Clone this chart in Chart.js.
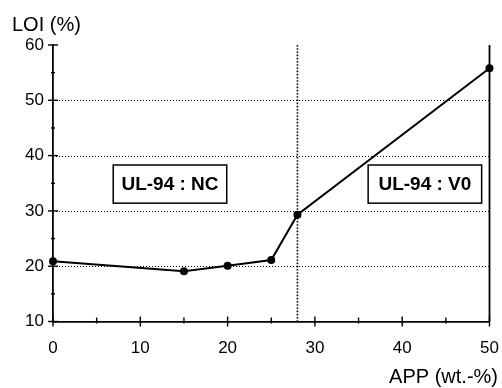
<!DOCTYPE html>
<html>
<head>
<meta charset="utf-8">
<script src="https://cdn.jsdelivr.net/npm/chart.js@4/dist/chart.umd.min.js"></script>
<style>
  html, body { margin: 0; padding: 0; background: #fff; }
  #wrap { width: 502px; height: 388px; }
</style>
</head>
<body>
<div id="wrap"><canvas id="loiChart" width="502" height="388"></canvas></div>
<script>
/* ─── Data ──────────────────────────────────────── */
const APP_CONTENT = [0, 15, 20, 25, 28, 50];
const LOI_VALUES  = [20.9, 19.1, 20.1, 21.1, 29.3, 55.8];

const X_TICKS = [0, 10, 20, 30, 40, 50];
const Y_TICKS = [10, 20, 30, 40, 50, 60];
const GRID_Y  = [20, 30, 40, 50];
const LIMIT_X = 28;

const BOX_LABELS = ['UL-94 : NC', 'UL-94 : V0'];
// box corners in data units: [x1, y1, x2, y2]
const BOX_AREAS  = [[6.9, 38.3, 19.9, 31.4], [36.1, 38.3, 49.1, 31.4]];

const X_TITLE = 'APP (wt.-%)';
const Y_TITLE = 'LOI (%)';

/* ─── Style ─────────────────────────────────────── */
const FONT = "Arial, 'Liberation Sans', sans-serif";
const INK  = '#000';

/* ─── Decorations plugin ────────────────────────── */
const decorPlugin = {
  id: 'decor',
  beforeDatasetsDraw(chart) {
    const { ctx, chartArea: a, scales: { x, y } } = chart;
    ctx.save();

    // dotted horizontal grid
    ctx.strokeStyle = INK;
    ctx.lineWidth = 1;
    ctx.setLineDash([1, 2]);
    GRID_Y.forEach(v => {
      const py = Math.round(y.getPixelForValue(v)) + 0.5;
      ctx.beginPath();
      ctx.moveTo(a.left, py);
      ctx.lineTo(a.right, py);
      ctx.stroke();
    });

    // dotted vertical limit line
    ctx.lineWidth = 1.6;
    ctx.setLineDash([1.6, 1.6]);
    const lx = x.getPixelForValue(LIMIT_X);
    ctx.beginPath();
    ctx.moveTo(lx, a.top);
    ctx.lineTo(lx, a.bottom);
    ctx.stroke();
    ctx.setLineDash([]);

    // right border line
    ctx.lineWidth = 1.8;
    ctx.beginPath();
    ctx.moveTo(a.right, a.top);
    ctx.lineTo(a.right, a.bottom);
    ctx.stroke();

    // tick marks
    ctx.lineWidth = 1.4;
    for (let v = 0; v <= 50; v += 5) {
      const px = x.getPixelForValue(v);
      const up = v % 10 === 0 ? 5 : 4;
      const dn = v % 10 === 0 ? 5 : 2;
      ctx.beginPath();
      ctx.moveTo(px, a.bottom - up);
      ctx.lineTo(px, a.bottom + dn);
      ctx.stroke();
    }
    for (let v = 10; v <= 60; v += 5) {
      const py = y.getPixelForValue(v);
      const l = v % 10 === 0 ? 5 : 2;
      const r = v % 10 === 0 ? 5 : 2;
      ctx.beginPath();
      ctx.moveTo(a.left - l, py);
      ctx.lineTo(a.left + r, py);
      ctx.stroke();
    }

    // annotation boxes
    ctx.font = `bold 19px ${FONT}`;
    ctx.textAlign = 'center';
    ctx.textBaseline = 'middle';
    BOX_AREAS.forEach((b, i) => {
      const x1 = x.getPixelForValue(b[0]), y1 = y.getPixelForValue(b[1]);
      const x2 = x.getPixelForValue(b[2]), y2 = y.getPixelForValue(b[3]);
      ctx.fillStyle = '#fff';
      ctx.fillRect(x1, y1, x2 - x1, y2 - y1);
      ctx.lineWidth = 1.5;
      ctx.strokeRect(x1, y1, x2 - x1, y2 - y1);
      ctx.fillStyle = INK;
      ctx.fillText(BOX_LABELS[i], (x1 + x2) / 2, (y1 + y2) / 2 + 1);
    });

    // axis titles
    ctx.textBaseline = 'alphabetic';
    ctx.font = `20px ${FONT}`;
    ctx.textAlign = 'left';
    ctx.fillText(Y_TITLE, 12, 31);
    ctx.textAlign = 'right';
    ctx.fillText(X_TITLE, 498, 383);

    ctx.restore();
  },
};

/* ─── Chart ─────────────────────────────────────── */
const chart = new Chart(document.getElementById('loiChart'), {
  type: 'line',
  data: {
    datasets: [{
      data: APP_CONTENT.map((v, i) => ({ x: v, y: LOI_VALUES[i] })),
      borderColor: INK,
      borderWidth: 2,
      backgroundColor: INK,
      pointRadius: 4,
      pointBackgroundColor: INK,
      pointBorderWidth: 0,
      tension: 0,
      clip: false,
    }],
  },
  options: {
    responsive: false,
    animation: false,
    devicePixelRatio: 1,
    layout: { padding: { top: 45, right: 12.5, left: 0, bottom: 0 } },
    plugins: { legend: { display: false }, tooltip: { enabled: false } },
    scales: {
      x: {
        type: 'linear',
        min: 0,
        max: 50,
        afterFit: s => { s.height = 66.5; s.paddingLeft = 0; s.paddingRight = 0; },
        afterBuildTicks: s => { s.ticks = X_TICKS.map(v => ({ value: v })); },
        grid: { display: false, drawTicks: false },
        border: { display: true, color: INK, width: 1.8 },
        ticks: { color: INK, padding: 17, maxRotation: 0, font: { family: FONT, size: 17 } },
      },
      y: {
        min: 10,
        max: 60,
        afterFit: s => { s.width = 53; s.paddingTop = 0; s.paddingBottom = 0; },
        afterBuildTicks: s => { s.ticks = Y_TICKS.map(v => ({ value: v })); },
        grid: { display: false, drawTicks: false },
        border: { display: true, color: INK, width: 1.8 },
        ticks: { color: INK, padding: 9, font: { family: FONT, size: 17 } },
      },
    },
  },
  plugins: [decorPlugin],
});
</script>
</body>
</html>
